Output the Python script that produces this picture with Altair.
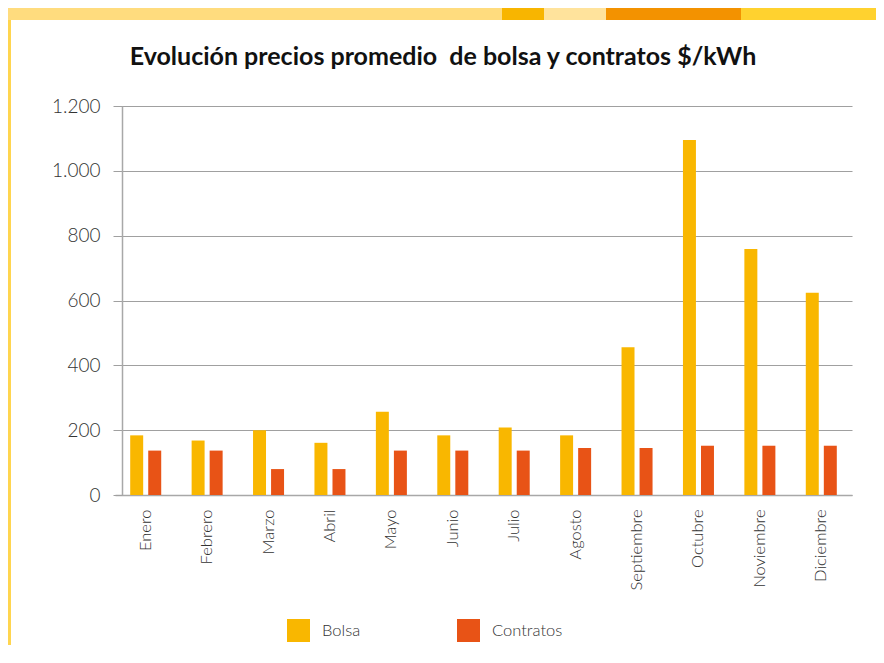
import altair as alt
import pandas as pd

months = ["Enero", "Febrero", "Marzo", "Abril", "Mayo", "Junio", "Julio",
          "Agosto", "Septiembre", "Octubre", "Noviembre", "Diciembre"]
bolsa = [184, 168, 200, 161, 257, 184, 208, 184, 456, 1095, 759, 624]
contratos = [137, 137, 80, 80, 137, 137, 137, 145, 145, 152, 152, 152]
series = ["Bolsa", "Contratos"]
colors = ["#F9B700", "#E85316"]
y_ticks = [0, 200, 400, 600, 800, 1000, 1200]

rows = []
for m, b, c in zip(months, bolsa, contratos):
    rows.append({"Mes": m, "Serie": series[0], "Valor": b})
    rows.append({"Mes": m, "Serie": series[1], "Valor": c})
df = pd.DataFrame(rows)

W, H = 724, 389
LABEL_FONT = "Lato"

bars = alt.Chart(df).mark_bar().encode(
    x=alt.X("Mes:N", sort=months, title=None,
            scale=alt.Scale(range=[-7, 730], paddingInner=0.495, paddingOuter=0.2475),
            axis=alt.Axis(labelAngle=-90, ticks=False, domain=True, domainColor="#a8a8a8",
                          domainWidth=1.5, labelPadding=14, labelFontSize=16.5,
                          labelFont=LABEL_FONT, labelFontWeight=300, labelColor="#333333")),
    xOffset=alt.XOffset("Serie:N", sort=series,
                        scale=alt.Scale(paddingInner=0.28, paddingOuter=0)),
    y=alt.Y("Valor:Q", title=None,
            scale=alt.Scale(domain=[0, 1200], nice=False),
            axis=alt.Axis(values=y_ticks, grid=True, gridColor="#a0a0a0", gridWidth=1.2,
                          tickColor="#a0a0a0", tickSize=9, domainColor="#a8a8a8",
                          domainWidth=1.5, labelPadding=13, labelFontSize=19,
                          labelFont=LABEL_FONT, labelFontWeight=300, labelColor="#333333",
                          labelExpr="replace(format(datum.value, ','), ',', '.')")),
    color=alt.Color("Serie:N", sort=series,
                    scale=alt.Scale(domain=series, range=colors),
                    legend=alt.Legend(title=None, orient="none", legendX=165, legendY=513,
                                      direction="horizontal", symbolType="square",
                                      symbolSize=529, symbolStrokeWidth=0,
                                      symbolOpacity=1, labelFontSize=16.5,
                                      labelFont=LABEL_FONT, labelFontWeight=300,
                                      labelColor="#333333", labelOffset=12,
                                      columnPadding=96, padding=0)),
)

deco_data = alt.Data(values=[{}])


def deco(x1, x2, y1, y2, color):
    return alt.Chart(deco_data).mark_rect(color=color).encode(
        x=alt.value(x1), x2=alt.value(x2), y=alt.value(y1), y2=alt.value(y2))


decos = [
    deco(-114, 380, -98, -86, "#FFDC7E"),
    deco(380, 430, -98, -86, "#F8B500"),
    deco(422, 498, -98, -86, "#FFE39C"),
    deco(484, 619, -98, -86, "#F39200"),
    deco(619, 770, -98, -86, "#FFD22F"),
    deco(-114, -111, -86, 540, "#FFD54F"),
]

chart = alt.layer(*decos, bars).properties(
    width=W, height=H,
    autosize=alt.AutoSizeParams(type="none"),
    padding={"left": 114, "top": 98, "right": 30, "bottom": 150},
    title=alt.TitleParams("Evolución precios promedio\u00a0 de bolsa y contratos $/kWh",
                          anchor="middle", frame="group", dx=-41, offset=0, dy=82,
                          baseline="alphabetic",
                          font="Lato", fontWeight="bold", fontSize=25, color="#111111"),
).configure_view(stroke=None)

chart.save("out.html", embed_options={"renderer": "svg", "actions": False})
